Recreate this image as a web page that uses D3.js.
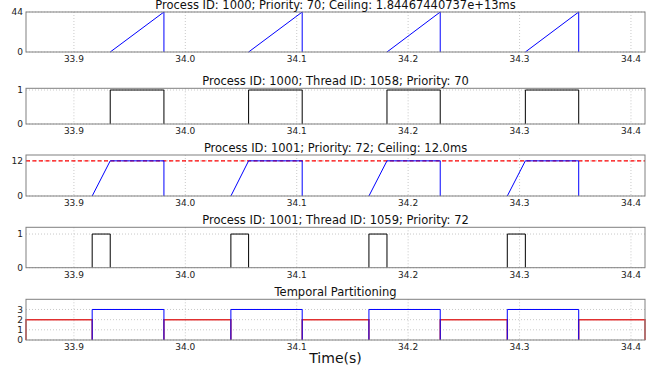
<!DOCTYPE html>
<html>
<head>
<meta charset="utf-8">
<script src="https://cdn.jsdelivr.net/npm/d3@7"></script>
<style>
  body { margin: 0; background: #fff; }
  text { font-family: "DejaVu Sans", sans-serif; }
</style>
</head>
<body>
<div id="chart"></div>
<script>
// x axis (time in seconds)
const xDomain = [33.857, 34.4126];
const xTicks = [33.9, 34.0, 34.1, 34.2, 34.3, 34.4];

// process 1000 / thread 1058 jobs
const p1000Start = [33.9326, 34.0568, 34.1810, 34.3052];
const p1000End = [33.9808, 34.1049, 34.2288, 34.3531];
const p1000Budget = 44;

// process 1001 / thread 1059 jobs
const p1001Start = [33.9164, 34.0409, 34.1648, 34.2890];
const p1001Full = [33.9326, 34.0568, 34.1810, 34.3052];
const p1001End = [33.9808, 34.1049, 34.2288, 34.3531];
const p1001Ceiling = 12;
const t1059Start = [33.9164, 34.0409, 34.1648, 34.2890];
const t1059End = [33.9326, 34.0568, 34.1810, 34.3052];

// temporal partitioning
const partBlueStart = [33.9164, 34.0409, 34.1648, 34.2890];
const partBlueEnd = [33.9808, 34.1049, 34.2288, 34.3531];
const partBlueLevel = 3;
const partRedStart = [33.857, 33.9808, 34.1049, 34.2288, 34.3531];
const partRedEnd = [33.9164, 34.0409, 34.1648, 34.2890, 34.4126];
const partRedLevel = 2;

const titles = [
  "Process ID: 1000; Priority: 70; Ceiling: 1.84467440737e+13ms",
  "Process ID: 1000; Thread ID: 1058; Priority: 70",
  "Process ID: 1001; Priority: 72; Ceiling: 12.0ms",
  "Process ID: 1001; Thread ID: 1059; Priority: 72",
  "Temporal Partitioning"
];
const yDomains = [[0, 44], [0, 1.05], [0, 14], [0, 1.2], [0, 4]];
const yTicks = [[0, 44], [0, 1], [0, 12], [0, 1], [0, 1, 2, 3]];

const W = 657, H = 372;
const left = 26, right = 645;
const panels = [
  { top: 12, bottom: 52 },
  { top: 88.3, bottom: 124 },
  { top: 155, bottom: 196 },
  { top: 227.3, bottom: 267.7 },
  { top: 299.3, bottom: 340 }
];

const svg = d3.select("#chart").append("svg")
  .attr("width", W).attr("height", H);

const x = d3.scaleLinear().domain(xDomain).range([left, right]);

const line = d3.line().x(d => x(d[0]));

// build the series for each panel
const series = [
  p1000Start.map((s, i) => ({ pts: [[s, 0], [p1000End[i], p1000Budget], [p1000End[i], 0]], color: "#0000ff", w: 1 })),
  p1000Start.map((s, i) => ({ pts: [[s, 0], [s, 1], [p1000End[i], 1], [p1000End[i], 0]], color: "#000", w: 1 })),
  p1001Start.map((s, i) => ({ pts: [[s, 0], [p1001Full[i], p1001Ceiling], [p1001End[i], p1001Ceiling], [p1001End[i], 0]], color: "#0000ff", w: 1 })),
  t1059Start.map((s, i) => ({ pts: [[s, 0], [s, 1], [t1059End[i], 1], [t1059End[i], 0]], color: "#000", w: 1 })),
  partRedStart.map((s, i) => ({ pts: [[s, 0], [s, partRedLevel], [partRedEnd[i], partRedLevel], [partRedEnd[i], 0]], color: "#e03030", w: 1.5 }))
    .concat(partBlueStart.map((s, i) => ({ pts: [[s, 0], [s, partBlueLevel], [partBlueEnd[i], partBlueLevel], [partBlueEnd[i], 0]], color: "#0000ff", w: 1 })))
];

panels.forEach((p, k) => {
  const y = d3.scaleLinear().domain(yDomains[k]).range([p.bottom, p.top]);
  const g = svg.append("g");

  // grid
  g.selectAll(".vg").data(xTicks).enter().append("line")
    .attr("x1", d => x(d)).attr("x2", d => x(d))
    .attr("y1", p.top).attr("y2", p.bottom)
    .attr("stroke", "#bbb").attr("stroke-width", 0.8)
    .attr("stroke-dasharray", "1,2");
  g.selectAll(".hg").data(yTicks[k]).enter().append("line")
    .attr("x1", left).attr("x2", right)
    .attr("y1", d => y(d)).attr("y2", d => y(d))
    .attr("stroke", "#bbb").attr("stroke-width", 0.8)
    .attr("stroke-dasharray", "1,2");

  // ceiling line
  if (k === 2) {
    g.append("line")
      .attr("x1", left).attr("x2", right)
      .attr("y1", y(p1001Ceiling)).attr("y2", y(p1001Ceiling))
      .attr("stroke", "#ff0000").attr("stroke-width", 1.2)
      .attr("stroke-dasharray", "4,2.5");
  }

  // data
  line.y(d => y(d[1]));
  series[k].forEach(s => {
    g.append("path")
      .attr("d", line(s.pts))
      .attr("fill", "none")
      .attr("stroke", s.color)
      .attr("stroke-width", s.w);
  });

  // frame on top
  g.append("rect")
    .attr("x", left).attr("y", p.top)
    .attr("width", right - left).attr("height", p.bottom - p.top)
    .attr("fill", "none").attr("stroke", "#808080").attr("stroke-width", 1);

  // x tick labels
  g.selectAll(".xt").data(xTicks).enter().append("text")
    .attr("x", d => x(d)).attr("y", p.bottom + 10)
    .attr("text-anchor", "middle")
    .attr("font-size", 9).attr("fill", "#222")
    .text(d => d.toFixed(1));

  // y tick labels
  g.selectAll(".yt").data(yTicks[k]).enter().append("text")
    .attr("x", left - 3).attr("y", d => y(d) + 3.2)
    .attr("text-anchor", "end")
    .attr("font-size", 9).attr("fill", "#222")
    .text(d => d);

  // title
  g.append("text")
    .attr("x", (left + right) / 2).attr("y", Math.max(p.top - 3.5, 9))
    .attr("text-anchor", "middle")
    .attr("font-size", 11.5).attr("fill", "#111")
    .text(titles[k]);
});

// x-axis label
svg.append("text")
  .attr("x", (left + right) / 2).attr("y", 363)
  .attr("text-anchor", "middle")
  .attr("font-size", 14).attr("fill", "#111")
  .text("Time(s)");
</script>
</body>
</html>
